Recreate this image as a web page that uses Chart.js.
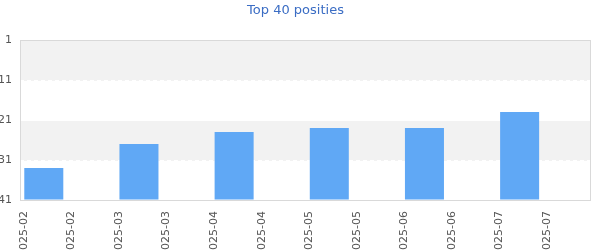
<!DOCTYPE html>
<html>
<head>
<meta charset="utf-8">
<script src="https://cdn.jsdelivr.net/npm/chart.js@4"></script>
<style>
  html, body { margin: 0; padding: 0; background: #fff; }
  #wrap { width: 600px; height: 250px; }
</style>
</head>
<body>
<div id="wrap"><canvas id="c"></canvas></div>
<script>
const tickLabels = ["2025-02","2025-02","2025-03","2025-03","2025-04","2025-04","2025-05","2025-05","2025-06","2025-06","2025-07","2025-07"];
const positions = [33, 27, 24, 23, 23, 19];
const yTicks = [1, 11, 21, 31, 41];
const bandRanges = [[1, 11], [21, 31]];

// bars sit on every other category slot
const barData = tickLabels.map((_, i) => (i % 2 === 0 ? positions[i / 2] : null));

const FONT = "'DejaVu Sans', sans-serif";

const backdrop = {
  id: 'backdrop',
  beforeDraw(chart) {
    const { ctx, chartArea: a, scales: { y } } = chart;
    ctx.save();
    ctx.fillStyle = '#f2f2f2';
    bandRanges.forEach(([from, to]) => {
      const p1 = Math.round(y.getPixelForValue(from)), p2 = Math.round(y.getPixelForValue(to));
      ctx.fillRect(a.left, Math.min(p1, p2) + 1, a.right - a.left, Math.abs(p2 - p1));
    });
    ctx.restore();
  },
  afterDraw(chart) {
    const { ctx, chartArea: a } = chart;
    ctx.save();
    ctx.strokeStyle = '#d9d9d9';
    ctx.lineWidth = 1;
    const l = Math.round(a.left) + 0.5, r = Math.round(a.right) - 0.5;
    const t = Math.round(a.top) + 0.5, b = Math.round(a.bottom) + 0.5;
    ctx.strokeRect(l, t, r - l, b - t);
    ctx.restore();
  }
};

new Chart(document.getElementById('c'), {
  type: 'bar',
  data: {
    labels: tickLabels,
    datasets: [{
      data: barData,
      base: 41,
      backgroundColor: '#60a8f5',
      borderWidth: 0,
      barPercentage: 1,
      categoryPercentage: 0.82
    }]
  },
  options: {
    responsive: true,
    maintainAspectRatio: false,
    animation: false,
    layout: { padding: { left: 0, right: 9, top: 0, bottom: 0 } },
    plugins: {
      legend: { display: false },
      tooltip: { enabled: false },
      title: {
        display: true,
        text: 'Top 40 posities',
        color: '#3b6dc4',
        font: { family: FONT, size: 13, weight: 'normal' },
        padding: { top: 3, bottom: 21.4 }
      }
    },
    scales: {
      x: {
        type: 'category',
        offset: true,
        grid: { display: false, drawTicks: false },
        border: { display: false },
        ticks: {
          autoSkip: false,
          minRotation: 90,
          maxRotation: 90,
          padding: 11,
          labelOffset: -20,
          color: '#555',
          font: { family: FONT, size: 11 }
        },
        afterFit(s) { s.height = 50; }
      },
      y: {
        reverse: true,
        min: 1,
        max: 41,
        afterBuildTicks(s) { s.ticks = yTicks.map(v => ({ value: v })); },
        grid: { color: '#ffffff', lineWidth: 1, drawTicks: false },
        border: { display: false, dash: [4, 3] },
        ticks: {
          padding: 8,
          color: '#555',
          font: { family: FONT, size: 11 }
        },
        afterFit(s) { s.width = 20; }
      }
    }
  },
  plugins: [backdrop]
});
</script>
</body>
</html>
